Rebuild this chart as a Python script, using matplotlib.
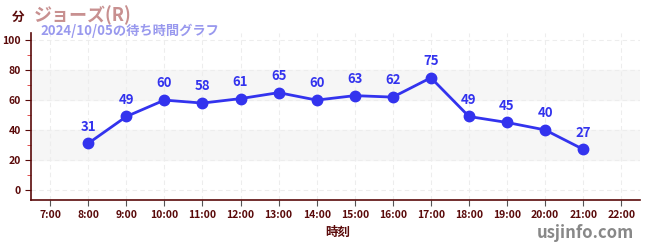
import matplotlib
matplotlib.use("Agg")
import matplotlib.pyplot as plt
from matplotlib.ticker import MultipleLocator

plt.rcParams['font.family'] = ['Noto Sans CJK JP', 'DejaVu Sans']

hours = [8, 9, 10, 11, 12, 13, 14, 15, 16, 17, 18, 19, 20, 21]
waits = [31, 49, 60, 58, 61, 65, 60, 63, 62, 75, 49, 45, 40, 27]
tick_hours = list(range(7, 23))
tick_labels = [f"{h}:00" for h in tick_hours]

dark = "#5a0a0a"
blue = "#3333ee"

fig = plt.figure(figsize=(6.5, 2.5), dpi=100)
ax = fig.add_axes([0.048, 0.2, 0.937, 0.668])

ax.set_xlim(6.5, 22.5)
ax.set_ylim(-7, 105)

# light bands behind every other 20-min range
for lo, hi in [(20, 40), (60, 80)]:
    ax.axhspan(lo, hi, color="#f6f6f6", zorder=0)

ax.set_xticks(tick_hours)
ax.set_xticklabels(tick_labels)
ax.set_yticks([0, 20, 40, 60, 80, 100])
ax.yaxis.set_minor_locator(MultipleLocator(10))
ax.grid(True, which="major", color="#ededed", linestyle=(0, (4, 3)), linewidth=0.8)
ax.set_axisbelow(True)

for s in ["top", "right"]:
    ax.spines[s].set_visible(False)
for s in ["left", "bottom"]:
    ax.spines[s].set_color(dark)
    ax.spines[s].set_linewidth(1.2)

ax.tick_params(axis="both", which="major", colors=dark, labelsize=7.5, length=4)
ax.tick_params(axis="x", which="major", color="#555555")
ax.tick_params(axis="y", which="minor", color="#dd3333", length=3)
for lbl in ax.get_xticklabels() + ax.get_yticklabels():
    lbl.set_fontweight("bold")

ax.plot(hours, waits, color=blue, linewidth=2, marker="o", markersize=7.5, zorder=3)
for h, w in zip(hours, waits):
    ax.annotate(str(w), (h, w), xytext=(0, 7), textcoords="offset points",
                ha="center", va="bottom", color=blue, fontsize=9.5, fontweight="bold")

fig.text(0.018, 0.93, "分", color=dark, fontsize=9, fontweight="bold", va="center")
fig.text(0.052, 0.94, "ジョーズ(R)", color="#c89090", fontsize=13, fontweight="bold", va="center")
fig.text(0.062, 0.876, "2024/10/05の待ち時間グラフ", color="#9999ee", fontsize=9.5,
         fontweight="bold", va="center")
fig.text(0.519, 0.07, "時刻", color=dark, fontsize=9, fontweight="bold", ha="center", va="center")
fig.text(0.975, 0.07, "usjinfo.com", color="#888888", fontsize=12, fontweight="bold",
         ha="right", va="center")

fig.savefig("out.png", dpi=100)
